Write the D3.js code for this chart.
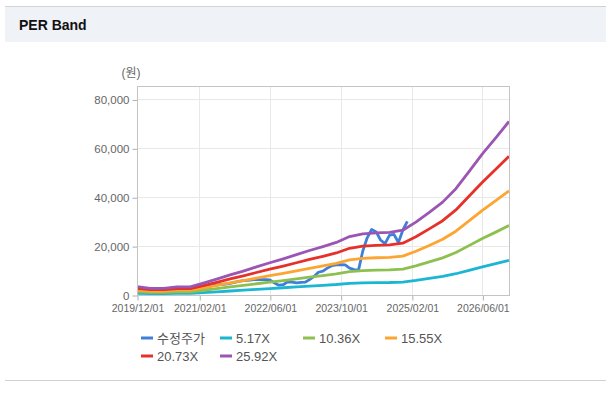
<!DOCTYPE html>
<html>
<head>
<meta charset="utf-8">
<script src="https://cdn.jsdelivr.net/npm/d3@7"></script>
<style>
	html, body { margin: 0; padding: 0; background: #fff; }
	svg text { font-family: "Liberation Sans", "Noto Sans CJK KR", sans-serif; }
</style>
</head>
<body>
<svg id="chart" width="612" height="396"></svg>
<script>
// band series (quarterly)
var bandDates = ["2019-12-01", "2020-03-01", "2020-06-01", "2020-09-01", "2020-12-01",
	"2021-03-01", "2021-06-01", "2021-09-01", "2021-12-01", "2022-03-01", "2022-06-01",
	"2022-09-01", "2022-12-01", "2023-03-01", "2023-06-01", "2023-09-01", "2023-12-01",
	"2024-03-01", "2024-06-01", "2024-09-01", "2024-12-01", "2025-03-01", "2025-06-01",
	"2025-09-01", "2025-12-01", "2026-03-01", "2026-06-01", "2026-09-01", "2026-12-01"];
var band517 = [680, 540, 540, 660, 660, 970, 1300, 1640, 1960, 2300, 2640, 2960, 3300, 3640,
	3960, 4300, 4780, 5000, 5080, 5120, 5300, 5960, 6760, 7600, 8700, 10100, 11540, 12860, 14200];
var band1036 = [1360, 1080, 1080, 1320, 1320, 1940, 2600, 3280, 3920, 4600, 5280, 5920, 6600, 7280,
	7920, 8600, 9560, 10000, 10160, 10240, 10600, 11920, 13520, 15200, 17400, 20200, 23080, 25720, 28400];
var band1555 = [2040, 1620, 1620, 1980, 1980, 2910, 3900, 4920, 5880, 6900, 7920, 8880, 9900, 10920,
	11880, 12900, 14340, 15000, 15240, 15360, 15900, 17880, 20280, 22800, 26100, 30300, 34620, 38580, 42600];
var band2073 = [2720, 2160, 2160, 2640, 2640, 3880, 5200, 6560, 7840, 9200, 10560, 11840, 13200, 14560,
	15840, 17200, 19120, 20000, 20320, 20480, 21200, 23840, 27040, 30400, 34800, 40400, 46160, 51440, 56800];
var band2592 = [3400, 2700, 2700, 3300, 3300, 4850, 6500, 8200, 9800, 11500, 13200, 14800, 16500, 18200,
	19800, 21500, 23900, 25000, 25400, 25600, 26500, 29800, 33800, 38000, 43500, 50500, 57700, 64300, 71000];

// adjusted price (monthly)
var priceDates = ["2019-12-01",
	"2020-01-01", "2020-02-01", "2020-03-01", "2020-04-01", "2020-05-01", "2020-06-01",
	"2020-07-01", "2020-08-01", "2020-09-01", "2020-10-01", "2020-11-01", "2020-12-01",
	"2021-01-01", "2021-02-01", "2021-03-01", "2021-04-01", "2021-05-01", "2021-06-01",
	"2021-07-01", "2021-08-01", "2021-09-01", "2021-10-01", "2021-11-01", "2021-12-01",
	"2022-01-01", "2022-02-01", "2022-03-01", "2022-04-01", "2022-05-01", "2022-06-01",
	"2022-07-01", "2022-08-01", "2022-09-01", "2022-10-01", "2022-11-01", "2022-12-01",
	"2023-01-01", "2023-02-01", "2023-03-01", "2023-04-01", "2023-05-01", "2023-06-01",
	"2023-07-01", "2023-08-01", "2023-09-01", "2023-10-01", "2023-11-01", "2023-12-01",
	"2024-01-01", "2024-02-01", "2024-03-01", "2024-04-01", "2024-05-01", "2024-06-01",
	"2024-07-01", "2024-08-01", "2024-09-01", "2024-10-01", "2024-11-01", "2024-12-01",
	"2025-01-01"];
var priceValues = [1800,
	1700, 1300, 1200, 1400, 1500, 1500, 1700, 1800, 1700, 1800, 2000, 2200,
	2500, 2800, 3000, 3300, 3800, 4000, 4300, 4500, 4800, 5200, 5600, 5900,
	6000, 6200, 6400, 6300, 6300, 6200, 5000, 4000, 4200, 5400, 5300, 5000,
	5200, 5300, 6300, 7600, 9300, 9800, 11000, 12000, 12300, 12400, 12300, 11000,
	10400, 10300, 18000, 23500, 26800, 25800, 22500, 21000, 24500, 24800, 21500, 26500,
	30100];

var seriesNames = ["수정주가", "5.17X", "10.36X", "15.55X", "20.73X", "25.92X"];
var seriesColors = ["#3f7fd8", "#1ab6d2", "#8dc04e", "#fca530", "#e6302a", "#9b55b3"];

var xTickLabels = ["2019/12/01", "2021/02/01", "2022/06/01", "2023/10/01", "2025/02/01", "2026/06/01"];
var yTicks = [0, 20000, 40000, 60000, 80000];
var xDomain = ["2019-12-01", "2026-12-01"];
var yMax = 85500;

var svg = d3.select("#chart");
var parseDate = d3.timeParse("%Y-%m-%d");
var parseTick = d3.timeParse("%Y/%m/%d");

var plot = { left: 137, right: 509, top: 86, bottom: 295 };

// panel frame
svg.append("line")
	.attr("x1", 5).attr("x2", 606).attr("y1", 6.5).attr("y2", 6.5)
	.attr("stroke", "#d2d2d2");
svg.append("rect")
	.attr("x", 5).attr("y", 7).attr("width", 601).attr("height", 35)
	.attr("fill", "#eff2f7");
svg.append("text")
	.attr("x", 19).attr("y", 30)
	.attr("font-size", "14px").attr("font-weight", "bold").attr("fill", "#111")
	.text("PER Band");
svg.append("line")
	.attr("x1", 5).attr("x2", 606).attr("y1", 380.5).attr("y2", 380.5)
	.attr("stroke", "#d2d2d2");

// scales
var x = d3.scaleTime()
	.domain(xDomain.map(parseDate))
	.range([plot.left, plot.right]);
var y = d3.scaleLinear()
	.domain([0, yMax])
	.range([plot.bottom, plot.top]);

// grid
var grid = svg.append("g");
grid.selectAll("line.h").data(yTicks).enter()
	.append("line").attr("class", "h")
	.attr("x1", plot.left).attr("x2", plot.right)
	.attr("y1", function(d){ return Math.round(y(d)) + 0.5; })
	.attr("y2", function(d){ return Math.round(y(d)) + 0.5; })
	.attr("stroke", "#e8e8e8");
grid.selectAll("line.v").data(xTickLabels).enter()
	.append("line").attr("class", "v")
	.attr("x1", function(d){ return Math.round(x(parseTick(d))) + 0.5; })
	.attr("x2", function(d){ return Math.round(x(parseTick(d))) + 0.5; })
	.attr("y1", plot.top).attr("y2", plot.bottom)
	.attr("stroke", "#e8e8e8");

// axes
var yAxis = svg.append("g")
	.attr("transform", "translate(" + (plot.left + 0.5) + ",0.5)")
	.call(d3.axisLeft(y).tickValues(yTicks).tickSize(5).tickPadding(3)
		.tickFormat(d3.format(",")));
var xAxis = svg.append("g")
	.attr("transform", "translate(0.5," + (plot.bottom + 0.5) + ")")
	.call(d3.axisBottom(x).tickValues(xTickLabels.map(parseTick)).tickSize(5).tickPadding(4)
		.tickFormat(d3.timeFormat("%Y/%m/%d")));
[yAxis, xAxis].forEach(function(a){
	a.select(".domain").remove();
	a.selectAll(".tick line").attr("stroke", "#b0b0b0");
	a.selectAll(".tick text").attr("fill", "#666").attr("font-family", null);
});
yAxis.selectAll(".tick text").attr("font-size", "11.5px");
xAxis.selectAll(".tick text").attr("font-size", "10.5px");

svg.append("text")
	.attr("x", 131).attr("y", 77).attr("text-anchor", "middle")
	.attr("font-size", "12px").attr("fill", "#666")
	.text("(원)");

// series
var priceSeries = priceDates.map(function(d, i){ return { date: parseDate(d), value: priceValues[i] }; });
var bands = [band517, band1036, band1555, band2073, band2592].map(function(vals){
	return bandDates.map(function(d, i){ return { date: parseDate(d), value: vals[i] }; });
});
var allSeries = [priceSeries].concat(bands);

var line = d3.line()
	.x(function(d){ return x(d.date); })
	.y(function(d){ return y(d.value); });

svg.append("g").selectAll("path").data(allSeries).enter()
	.append("path")
	.attr("d", line)
	.attr("fill", "none")
	.attr("stroke", function(d, i){ return seriesColors[i]; })
	.attr("stroke-width", 2.8)
	.attr("stroke-linejoin", "round");

// plot border
svg.append("rect")
	.attr("x", plot.left + 0.5).attr("y", plot.top + 0.5)
	.attr("width", plot.right - plot.left).attr("height", plot.bottom - plot.top)
	.attr("fill", "none").attr("stroke", "#c4c4c4");

// legend
var legendCols = [141, 220, 303, 385];
var legendRows = [338, 356];
var legend = svg.append("g").selectAll("g").data(seriesNames).enter()
	.append("g")
	.attr("transform", function(d, i){
		return "translate(" + legendCols[i % 4] + "," + legendRows[Math.floor(i / 4)] + ")";
	});
legend.append("line")
	.attr("x1", 0).attr("x2", 12).attr("y1", 0).attr("y2", 0)
	.attr("stroke", function(d, i){ return seriesColors[i]; })
	.attr("stroke-width", 3);
legend.append("text")
	.attr("x", 16).attr("y", 0).attr("dy", "0.35em")
	.attr("font-size", "13px").attr("fill", "#555")
	.text(function(d){ return d; });
</script>
</body>
</html>
